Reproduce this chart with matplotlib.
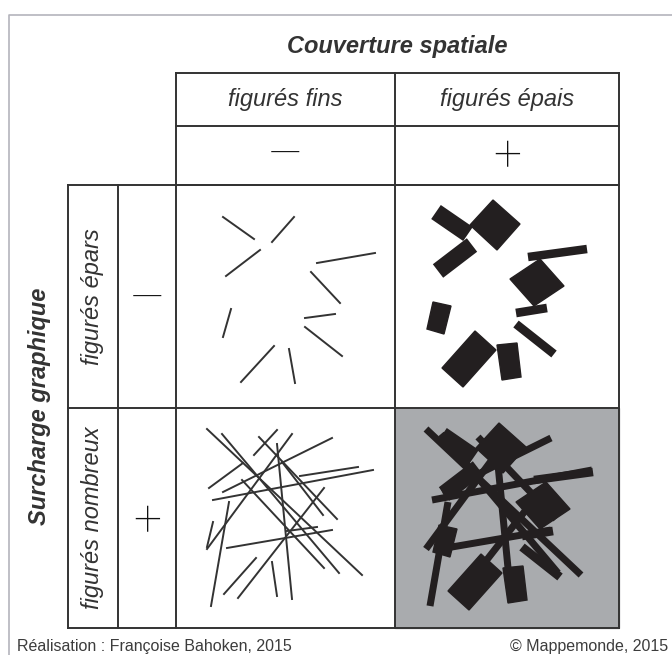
import numpy as np
import matplotlib.pyplot as plt
from matplotlib.patches import Polygon, Rectangle

W, H = 672, 655
fam = ['Liberation Sans', 'DejaVu Sans']
ink = '#333333'
black = '#231f20'
grey_cell = '#a9abae'

# table grid (pixel units)
col_x = [68, 118, 176, 395, 619]
head_y = [73, 126, 185]
row_y = [185, 408, 628]

title_top = 'Couverture spatiale'
title_left = 'Surcharge graphique'
col_labels = ['figurés fins', 'figurés épais']
row_labels = ['figurés épars', 'figurés nombreux']
signs = ['—', '+']
sign_size = [31, 36]
credit_left = 'Réalisation : Françoise Bahoken, 2015'
credit_right = '© Mappemonde, 2015'

# sparse thin strokes (top-left cell)
sparse_lines = [
    ((223, 217), (254, 239)),
    ((272, 242), (294, 217)),
    ((226, 276), (260, 250)),
    ((317, 263), (375, 253)),
    ((311, 272), (340, 303)),
    ((231, 309), (223, 337)),
    ((305, 318), (335, 314)),
    ((305, 327), (342, 356)),
    ((241, 382), (274, 346)),
    ((289, 349), (295, 383)),
]

# many thin strokes (bottom-left cell)
dense_lines = [
    ((207, 429), (362, 575)),
    ((222, 434), (339, 573)),
    ((259, 437), (337, 519)),
    ((242, 480), (324, 568)),
    ((277, 444), (292, 599)),
    ((254, 455), (277, 430)),
    ((292, 434), (207, 549)),
    ((209, 488), (243, 463)),
    ((223, 492), (332, 438)),
    ((213, 500), (373, 470)),
    ((300, 476), (358, 467)),
    ((229, 502), (211, 606)),
    ((213, 522), (207, 547)),
    ((227, 548), (332, 530)),
    ((287, 531), (317, 527)),
    ((324, 488), (238, 598)),
    ((256, 558), (224, 594)),
    ((272, 562), (277, 596)),
    ((282, 462), (323, 515)),
]
# which of the dense strokes reappear thick in the grey cell
thick_idx = [0, 1, 2, 4, 6, 8, 9, 11, 13, 15]

# thick bars (top-right cell): centre line + width in px
bars = [
    ((436, 212), (468, 234), 17),
    ((438, 271), (472, 245), 17),
    ((528, 257), (587, 249), 8.5),
    ((516, 313), (547, 308), 8.7),
    ((516, 324), (554, 354), 8.7),
]
# blocks (top-right cell): corner points
blocks = [
    [(493, 200), (520, 224), (497, 250), (470, 225)],
    [(510, 279), (540, 259), (564, 286), (534, 306)],
    [(433, 302), (451, 306), (444, 334), (427, 329)],
    [(475, 331), (496, 350), (463, 387), (442, 368)],
    [(497, 345), (517, 343), (521, 377), (502, 380)],
]


def px(v):
    # pixel width -> points at 100 dpi
    return v * 72 / 100


def draw_bar(ax, p, q, w, dx=0, dy=0):
    ax.plot([p[0] + dx, q[0] + dx], [p[1] + dy, q[1] + dy], color=black,
            lw=px(w), solid_capstyle='butt', zorder=3)


def main():
    fig = plt.figure(figsize=(W / 100, H / 100), dpi=100)
    ax = fig.add_axes([0, 0, 1, 1])
    ax.set_xlim(0, W)
    ax.set_ylim(H, 0)
    ax.axis('off')

    # outer frame
    ax.plot([9, 9, W + 5], [H + 5, 15, 15], color='#b4b4bc', lw=1.2)

    # grey cell
    ax.add_patch(Rectangle((col_x[3], row_y[1]), col_x[4] - col_x[3],
                           row_y[2] - row_y[1], color=grey_cell, zorder=1))

    lk = dict(color=ink, lw=1.4, zorder=4, solid_capstyle='projecting')
    # header block
    for y in head_y:
        ax.plot([col_x[2], col_x[4]], [y, y], **lk)
    for x in col_x[2:]:
        ax.plot([x, x], [head_y[0], row_y[2]], **lk)
    # row block
    for y in row_y:
        ax.plot([col_x[0], col_x[4]], [y, y], **lk)
    for x in col_x[:2]:
        ax.plot([x, x], [row_y[0], row_y[2]], **lk)

    # texts
    ax.text((col_x[2] + col_x[4]) / 2, 47, title_top, family=fam, size=17,
            weight='bold', style='italic', color=ink, ha='center', va='center')
    ax.text(40, (row_y[0] + row_y[2]) / 2, title_left, family=fam, size=17,
            weight='bold', style='italic', color=ink, ha='center', va='center',
            rotation=90)
    for i, lab in enumerate(col_labels):
        cx = (col_x[2 + i] + col_x[3 + i]) / 2
        ax.text(cx, (head_y[0] + head_y[1]) / 2, lab, family=fam, size=17,
                style='italic', color=ink, ha='center', va='center')
        ax.text(cx, (head_y[1] + head_y[2]) / 2 + 1, signs[i],
                family=['Roboto'] + fam, size=sign_size[i], weight='light',
                color='#111111', ha='center', va='center')
    for i, lab in enumerate(row_labels):
        cy = (row_y[i] + row_y[i + 1]) / 2
        ax.text((col_x[0] + col_x[1]) / 2, cy, lab, family=fam, size=17,
                style='italic', color=ink, ha='center', va='center', rotation=90)
        ax.text((col_x[1] + col_x[2]) / 2, cy + 4, signs[i],
                family=['Roboto'] + fam, size=sign_size[i], weight='light',
                color='#111111', ha='center', va='center')

    # cell drawings
    for p, q in sparse_lines:
        ax.plot([p[0], q[0]], [p[1], q[1]], color=ink, lw=1.4, zorder=3)
    for p, q in dense_lines:
        ax.plot([p[0], q[0]], [p[1], q[1]], color=ink, lw=1.4, zorder=3)

    for p, q, w in bars:
        draw_bar(ax, p, q, w)
    for pts in blocks:
        ax.add_patch(Polygon(pts, closed=True, color=black, zorder=3))

    # grey cell = thick strokes + blocks
    sx, sy = 6, row_y[1] - row_y[0]
    for p, q, w in bars:
        draw_bar(ax, p, q, w, sx, sy)
    for pts in blocks:
        ax.add_patch(Polygon([(a + sx, b + sy) for a, b in pts], closed=True,
                             color=black, zorder=3))
    dx = col_x[3] - col_x[2]
    for i in thick_idx:
        p, q = dense_lines[i]
        draw_bar(ax, p, q, 7, dx, 0)

    ax.text(17, 647, credit_left, family=fam, size=11.5, color='#3c3c3c',
            ha='left', va='center')
    ax.text(668, 647, credit_right, family=fam, size=11.5, color='#3c3c3c',
            ha='right', va='center')

    fig.savefig('out.png', dpi=100, facecolor='white')
    plt.close()


if __name__ == "__main__":
    main()
